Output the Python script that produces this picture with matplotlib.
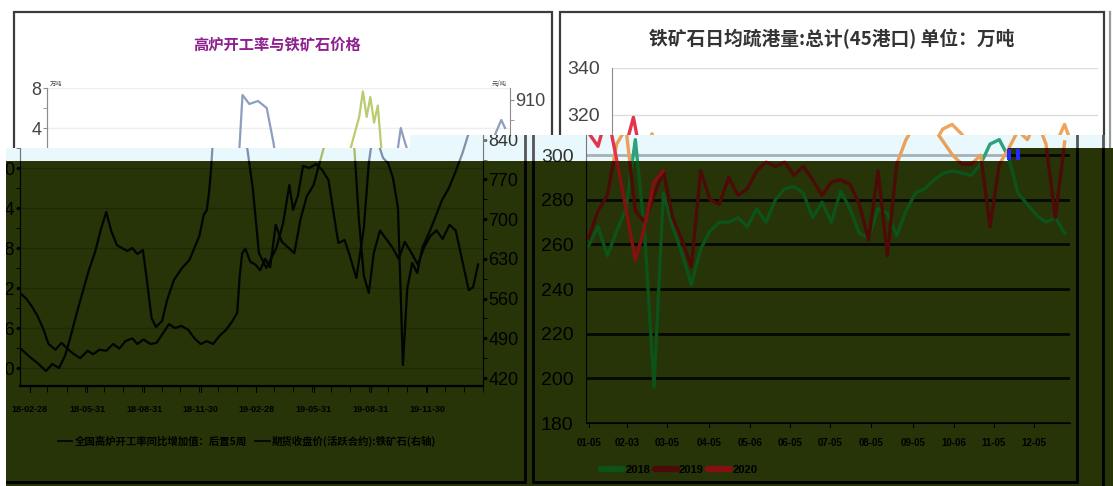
import numpy as np
import pandas as pd
import matplotlib
matplotlib.use("Agg")
import matplotlib.pyplot as plt
import matplotlib.dates as mdates
from matplotlib.patches import Polygon, Rectangle
from matplotlib.lines import Line2D
from matplotlib.text import Text
from matplotlib.transforms import Affine2D, Bbox, TransformedBbox
from matplotlib.ticker import MultipleLocator

plt.rcParams['font.family'] = ['Noto Sans CJK SC', 'DejaVu Sans']
NARROW = ['Liberation Sans Narrow', 'Liberation Sans', 'DejaVu Sans']

# ---- left chart: blast furnace utilisation (yoy) vs iron ore futures ----
fur_dates = ["2018-02-12", "2018-02-26", "2018-03-12", "2018-03-26", "2018-04-05", "2018-04-16",
             "2018-04-26", "2018-05-03", "2018-05-14", "2018-05-24", "2018-06-03", "2018-06-13",
             "2018-06-22", "2018-07-01", "2018-07-09", "2018-07-18", "2018-07-26", "2018-08-04",
             "2018-08-12", "2018-08-20", "2018-08-29", "2018-09-04", "2018-09-12", "2018-09-19",
             "2018-09-29", "2018-10-07", "2018-10-18", "2018-10-31", "2018-11-12", "2018-11-28",
             "2018-12-05", "2018-12-10", "2018-12-14", "2018-12-17", "2018-12-20", "2018-12-24",
             "2019-01-04", "2019-01-18", "2019-02-01", "2019-02-12", "2019-02-22", "2019-03-04",
             "2019-03-16", "2019-04-01", "2019-04-12", "2019-04-22", "2019-04-28", "2019-05-06",
             "2019-05-14", "2019-05-24", "2019-06-04", "2019-06-14", "2019-06-24", "2019-07-04",
             "2019-07-10", "2019-07-20", "2019-07-28", "2019-08-08", "2019-08-20", "2019-08-28",
             "2019-09-05", "2019-09-12", "2019-09-20", "2019-09-28", "2019-10-06", "2019-10-14",
             "2019-10-22", "2019-10-29", "2019-11-06", "2019-11-14", "2019-11-22", "2019-12-03",
             "2019-12-14", "2019-12-24", "2020-01-04", "2020-01-14", "2020-01-26", "2020-02-05",
             "2020-02-14", "2020-02-20"]
fur_vals = [-18.0, -18.8, -19.5, -20.3, -19.6, -20.0, -18.7, -17.2, -14.6, -12.4,
            -10.2, -8.4, -6.2, -4.4, -6.3, -7.7, -8.0, -8.3, -8.0, -8.6,
            -8.2, -11.0, -15.0, -15.9, -15.3, -13.2, -11.2, -10.0, -9.2, -6.8,
            -4.7, -4.2, -2.2, 0.0, 3.0, 7.3, 6.4, 6.7, 6.0, 2.5,
            -2.0, -8.5, -10.0, -8.0, -5.5, -1.7, -4.2, -2.7, 0.2, 0.0,
            0.4, -0.2, -1.2, -5.2, -7.5, -7.2, -8.7, -11.0, -6.0, 0.5,
            4.0, 2.5, 1.0, 0.5, -1.0, -4.0, -19.7, -12.0, -9.5, -10.5,
            -8.0, -6.5, -4.8, -3.2, -2.0, -0.5, 1.5, 3.5, 4.8, 4.0]

ore_dates = ["2018-02-12", "2018-02-22", "2018-03-02", "2018-03-12", "2018-03-22", "2018-03-30",
             "2018-04-10", "2018-04-20", "2018-05-01", "2018-05-10", "2018-05-20", "2018-06-01",
             "2018-06-10", "2018-06-20", "2018-07-01", "2018-07-12", "2018-07-22", "2018-08-01",
             "2018-08-12", "2018-08-20", "2018-08-30", "2018-09-10", "2018-09-20", "2018-10-01",
             "2018-10-10", "2018-10-20", "2018-10-30", "2018-11-10", "2018-11-20", "2018-11-30",
             "2018-12-10", "2018-12-20", "2018-12-31", "2019-01-10", "2019-01-20", "2019-01-28",
             "2019-02-01", "2019-02-05", "2019-02-10", "2019-02-18", "2019-02-26", "2019-03-06",
             "2019-03-14", "2019-03-22", "2019-03-31", "2019-04-10", "2019-04-20", "2019-04-30",
             "2019-05-10", "2019-05-20", "2019-05-31", "2019-06-10", "2019-06-20", "2019-06-30",
             "2019-07-06", "2019-07-12", "2019-07-18", "2019-07-24", "2019-07-30", "2019-08-05",
             "2019-08-12", "2019-08-20", "2019-08-28", "2019-09-05", "2019-09-15", "2019-09-25",
             "2019-10-05", "2019-10-15", "2019-10-25", "2019-11-05", "2019-11-15", "2019-11-25",
             "2019-12-05", "2019-12-15", "2019-12-25", "2020-01-05", "2020-01-15", "2020-01-25",
             "2020-02-05", "2020-02-12", "2020-02-20"]
ore_vals = [570, 560, 548, 530, 505, 480, 470, 482, 470, 462, 455, 468, 462, 470, 468, 480,
            472, 485, 490, 480, 488, 480, 482, 500, 515, 508, 512, 505, 490, 480, 485, 480,
            495, 505, 520, 535, 600, 640, 648, 625, 620, 610, 630, 615, 690, 660, 650, 640,
            700, 740, 760, 800, 840, 880, 925, 880, 915, 870, 900, 820, 700, 600, 570, 640,
            680, 665, 650, 630, 660, 640, 620, 650, 670, 680, 665, 690, 680, 630, 575, 580, 620]

left_tick_dates = ["2018-02-28", "2018-05-31", "2018-08-31", "2018-11-30",
                   "2019-02-28", "2019-05-31", "2019-08-31", "2019-11-30"]
left_title = "高炉开工率与铁矿石价格"
left_names = ["全国高炉开工率同比增加值：后置5周", "期货收盘价(活跃合约):铁矿石(右轴)"]

# ---- right chart: daily average port clearance, 45 ports ----
week_days = np.arange(5, 366, 7)
port_2018 = [259.5, 268, 255, 266, 276, 307, 265, 196, 283, 268, 256, 242, 258, 266, 270, 270,
             272, 268, 276, 270, 280, 285, 286, 283, 272, 279, 270, 284, 276, 265, 263, 276,
             274, 264, 275, 283, 285, 289, 292, 293, 292, 291, 296, 305, 307, 299, 283, 278,
             273, 270, 272, 265]
port_2019 = [263, 275, 282, 305, 312, 275, 270, 282, 293, 272, 262, 250, 293, 280, 278, 290,
             282, 285, 293, 297, 295, 297, 291, 295, 289, 282, 288, 289, 287, 278, 262, 293,
             255, 296, 307, 314, 316, 312, 306, 300, 296, 296, 300, 268, 296, 303, 311, 307,
             316, 305, 272, 306]
port_2020 = [310, 304, 319, 298, 276, 253, 268, 288, 293]
right_tick_days = [5, 34, 64, 95, 126, 156, 186, 217, 248, 279, 309, 339]
right_tick_labels = ["01-05", "02-03", "03-05", "04-05", "05-06", "06-05",
                     "07-05", "08-05", "09-05", "10-06", "11-05", "12-05"]
right_title = "铁矿石日均疏港量:总计(45港口) 单位：万吨"
years = ["2018", "2019", "2020"]

W, H = 1113, 486
fig = plt.figure(figsize=(W / 100, H / 100), dpi=100)
fig.patch.set_facecolor('white')
# pixel coordinates, origin top-left
pix = Affine2D().scale(1 / W, -1 / H).translate(0, 1) + fig.transFigure


def px_box(x0, y0, x1, y1):
    return [x0 / W, 1 - y1 / H, (x1 - x0) / W, (y1 - y0) / H]


light = dict(fur='#8d9ec0', ore='#b9cc70', text='#444444', spine='#8c8c8c', grid='#dcdcdc',
             y18='#34a56a', y19='#f0a55a', y20='#e3344c', frame='#3c3c3c', lgrid='#eeeeee')
strip = dict(fur='#7f90aa', ore='#a9bb6a', text='#333333', spine='#777777', grid='#a8b0b4',
             y18='#2ca27c', y19='#e9a058', y20='#e3344c', frame='#555555', lgrid='#dde8ec')
dark = dict(fur='#020402', ore='#020402', text='#000000', spine='#000000', grid='#050800',
            y18='#0c5219', y19='#4d0b08', y20='#860f12', frame='#000000', lgrid='#1d2a06')


def draw_left(pal, x0, x1, y0, y1, z):
    ax = fig.add_axes(px_box(x0, y0, x1, y1), zorder=z)
    ax.patch.set_visible(False)
    ax.plot(pd.to_datetime(fur_dates), fur_vals, color=pal['fur'], lw=1.6)
    ax.set_ylim(-21.8, 8)
    ax.set_yticks(np.arange(-20, 9, 4))
    ax.yaxis.set_minor_locator(MultipleLocator(2))
    ax.grid(axis='y', color=pal['lgrid'], lw=1)
    ax.set_xlim(pd.Timestamp("2018-02-12"), pd.Timestamp("2020-02-28"))
    ax.set_xticks(pd.to_datetime(left_tick_dates))
    ax.xaxis.set_major_formatter(mdates.DateFormatter('%y-%m-%d'))
    ax.xaxis.set_minor_locator(mdates.MonthLocator(bymonthday=28))
    ax.tick_params(axis='x', which='both', direction='out', length=4, pad=10,
                   colors=pal['spine'], labelcolor=pal['text'])
    ax.tick_params(axis='y', which='both', length=3, pad=1,
                   colors=pal['spine'], labelcolor=pal['text'])
    for lab in ax.get_xticklabels():
        lab.set_fontfamily(NARROW)
        lab.set_fontsize(6.5)
        lab.set_fontweight('bold')
    for lab in ax.get_yticklabels():
        lab.set_fontfamily(NARROW)
        lab.set_fontsize(13)

    ax2 = ax.twinx()
    ax2.set_zorder(z)
    ax2.patch.set_visible(False)
    ax2.plot(pd.to_datetime(ore_dates), ore_vals, color=pal['ore'], lw=1.6)
    ax2.set_ylim(406, 931)
    ax2.set_yticks(np.arange(420, 911, 70))
    ax2.yaxis.set_minor_locator(MultipleLocator(35))
    ax2.tick_params(axis='y', which='both', length=3, pad=1,
                    colors=pal['spine'], labelcolor=pal['text'])
    for lab in ax2.get_yticklabels():
        lab.set_fontfamily(NARROW)
        lab.set_fontsize(13)

    for a in (ax, ax2):
        a.spines['top'].set_visible(False)
        for s in a.spines.values():
            s.set_color(pal['spine'])
    ax.spines['right'].set_visible(False)
    ax.spines['bottom'].set_linewidth(1.6)
    ax.text(0.005, 1.0, "万吨", transform=ax.transAxes, fontsize=4.5, color=pal['text'], va='bottom')
    ax2.text(0.992, 1.0, "元/吨", transform=ax2.transAxes, fontsize=4.5, color=pal['text'],
             va='bottom', ha='right')
    handles = [Line2D([], [], color=pal['text'], lw=1.2) for _ in left_names]
    ax.legend(handles, left_names, loc='upper center', bbox_to_anchor=(0.49, -0.135), ncol=2,
              frameon=False, handlelength=1.4, handletextpad=0.2, columnspacing=0.8,
              labelcolor=pal['text'], prop={'weight': 'bold', 'size': 7.5})
    return [ax, ax2]


def draw_right(pal, x0, x1, y0, y1, z, glw):
    ax = fig.add_axes(px_box(x0, y0, x1, y1), zorder=z)
    ax.patch.set_visible(False)
    for vals, key, name in zip((port_2018, port_2019, port_2020), ('y18', 'y19', 'y20'), years):
        ax.plot(week_days[:len(vals)], vals, color=pal[key], lw=2.4, label=name,
                solid_joinstyle='round')
    ax.set_xlim(3, 366)
    ax.set_ylim(180, 340)
    ax.set_yticks(np.arange(180, 341, 20))
    ax.set_xticks(right_tick_days, right_tick_labels)
    ax.grid(axis='y', color=pal['grid'], lw=glw)
    ax.set_axisbelow(True)
    for side in ('top', 'right'):
        ax.spines[side].set_visible(False)
    for s in ('left', 'bottom'):
        ax.spines[s].set_color(pal['spine'])
    ax.tick_params(axis='x', length=3, pad=8, colors=pal['spine'], labelcolor=pal['text'])
    ax.tick_params(axis='y', length=0, pad=9, labelcolor=pal['text'])
    for lab in ax.get_xticklabels():
        lab.set_fontfamily(NARROW)
        lab.set_fontsize(7)
        lab.set_fontweight('bold')
    for lab in ax.get_yticklabels():
        lab.set_fontfamily(NARROW)
        lab.set_fontsize(14)
    leg = ax.legend(loc='upper left', bbox_to_anchor=(0.01, -0.09), ncol=3, frameon=False,
                    handlelength=2.0, handletextpad=0.2, columnspacing=0.4,
                    prop={'family': NARROW, 'weight': 'bold', 'size': 8}, labelcolor=pal['text'])
    for h in leg.get_lines():
        h.set_linewidth(4.5)
        h.set_solid_capstyle('round')
    return [ax]


def frame(x0, y0, x1, y1, color, lw, z, clip=None):
    r = Rectangle((x0, y0), x1 - x0, y1 - y0, fill=False, edgecolor=color, lw=lw,
                  transform=pix, zorder=z)
    if clip is not None:
        r.set_clip_path(clip)
    fig.add_artist(r)


def vline(x, y0, y1, color, lw, z, clip=None):
    ln = Line2D([x, x], [y0, y1], color=color, lw=lw, transform=pix, zorder=z)
    if clip is not None:
        ln.set_clip_path(clip)
    fig.add_artist(ln)


# base layer
frame(14, 12, 552, 481, light['frame'], 1.6, 0.5)
frame(560, 12, 1104, 481, light['frame'], 1.6, 0.5)
vline(1110, 12, 481, '#9a9a9a', 1.6, 0.5)
base_axes = draw_left(light, 47, 510, 88, 386, 1) + draw_right(light, 612, 1098, 68, 444, 1, 1.0)
fig.text(277 / W, 1 - 45 / H, left_title, color='#8e1f8e', fontsize=11, fontweight='bold',
         ha='center', va='center', zorder=2)
fig.text(832 / W, 1 - 39 / H, right_title, color='#333333', fontsize=13.5, fontweight='bold',
         ha='center', va='center', zorder=2)

# banded lower layer: a light strip and a dark block, each showing the shifted charts
strip_rects = [(6, 148, 410, 161), (410, 135, 1008, 161), (1008, 135, 1107, 148)]
dark_rects = [(6, 161, 1008, 486), (1008, 148, 1113, 486)]
strip_pts = [(6, 148), (410, 148), (410, 135), (1107, 135), (1107, 148), (1008, 148),
             (1008, 161), (6, 161)]
dark_pts = [(6, 161), (1008, 161), (1008, 148), (1113, 148), (1113, 486), (6, 486)]
fig.add_artist(Polygon(strip_pts, closed=True, facecolor='#e8f8fc', edgecolor='none',
                       transform=pix, zorder=5))
fig.add_artist(Polygon(dark_pts, closed=True, facecolor='#263408', edgecolor='none',
                       transform=pix, zorder=5))
strip_clip = Polygon(strip_pts, closed=True, transform=pix)
dark_clip = Polygon(dark_pts, closed=True, transform=pix)

layers = []
for pal, clip, rects in ((strip, strip_clip, strip_rects), (dark, dark_clip, dark_rects)):
    frame(-13, 12, 525, 482, pal['frame'], 2.0, 5.5, clip)
    frame(533, 12, 1077, 482, pal['frame'], 2.0, 5.5, clip)
    vline(1103, 12, 486, pal['frame'], 2.0, 5.5, clip)
    axs = draw_left(pal, 20, 483, 88, 386, 6) + draw_right(pal, 586, 1070, 66, 423, 6, 2.0)
    layers.append((axs, clip, rects))

fig.add_artist(Rectangle((1007, 149), 4, 11, facecolor='#1f2bff', edgecolor='none',
                         transform=pix, zorder=7))
fig.add_artist(Rectangle((1016, 149), 4, 11, facecolor='#1f2bff', edgecolor='none',
                         transform=pix, zorder=7))


def overlap(a, b):
    w = min(a[2], b[2]) - max(a[0], b[0])
    h = min(a[3], b[3]) - max(a[1], b[1])
    return max(w, 0) * max(h, 0)


def text_box(art, renderer):
    bb = art.get_window_extent(renderer)
    return (bb.x0, H - bb.y1, bb.x1, H - bb.y0)


def hidden(tb):
    # under the band, or past the canvas edge
    if tb[0] < 0 or tb[2] > W or tb[1] < 0 or tb[3] > H:
        return True
    x, y = (tb[0] + tb[2]) / 2, (tb[1] + tb[3]) / 2
    return any(r[0] <= x <= r[2] and r[1] <= y <= r[3] for r in strip_rects + dark_rects)


# ticks are created on the first draw, so clip after it.
# Agg clips text only to rectangles, so each text gets the band piece it sits in.
fig.canvas.draw()
renderer = fig.canvas.get_renderer()
for axs, clip, rects in layers:
    for a in axs:
        for art in a.findobj():
            if art is a:
                continue
            art.set_clip_on(True)
            if isinstance(art, Text):
                if not art.get_visible() or not art.get_text():
                    continue
                tb = text_box(art, renderer)
                best = max(rects, key=lambda r: overlap(tb, r))
                if overlap(tb, best) <= 0:
                    art.set_visible(False)
                    continue
                x0, y0, x1, y1 = best
                art.set_clip_path(None)
                art.set_clip_box(TransformedBbox(
                    Bbox.from_extents(x0 / W, 1 - y1 / H, x1 / W, 1 - y0 / H), fig.transFigure))
            else:
                art.set_clip_path(clip)

# base-layer texts that sit under the band are never seen
for a in base_axes:
    for art in a.findobj(Text):
        if art.get_visible() and art.get_text():
            if hidden(text_box(art, renderer)):
                art.set_visible(False)

fig.savefig("out.png", dpi=100)
